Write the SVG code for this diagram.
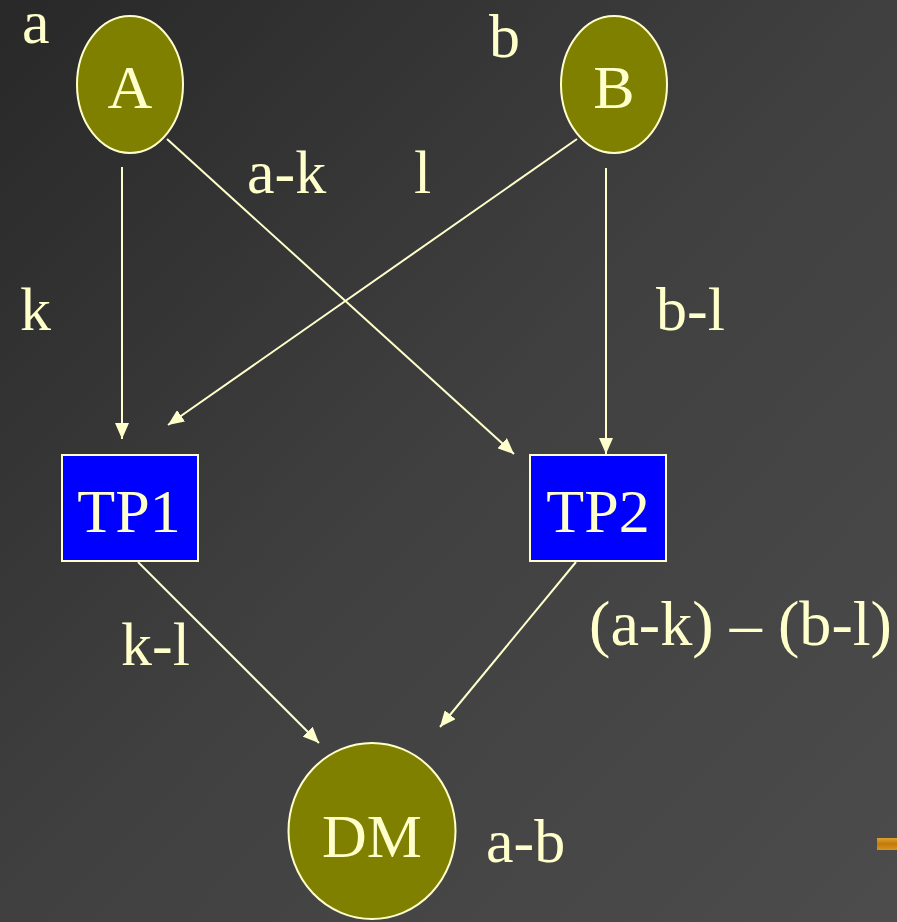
<svg xmlns="http://www.w3.org/2000/svg" width="897" height="922" viewBox="0 0 897 922">
<defs>
<linearGradient id="bg" x1="0" y1="0" x2="1" y2="1">
<stop offset="0" stop-color="#282828"/>
<stop offset="0.5" stop-color="#404040"/>
<stop offset="1" stop-color="#4c4c4c"/>
</linearGradient>
<linearGradient id="gold" x1="0" y1="0" x2="0" y2="1">
<stop offset="0" stop-color="#e0a030"/>
<stop offset="0.5" stop-color="#c07a08"/>
<stop offset="1" stop-color="#d89420"/>
</linearGradient>
<style>
text{font-family:"Liberation Serif","Times New Roman",serif;font-size:62px;fill:#ffffcc}
.c{text-anchor:middle}
.ell{fill:#808000;stroke:#ffffcc;stroke-width:2}
.box{fill:#0000ff;stroke:#ffffcc;stroke-width:2}
.ln{stroke:#ffffcc;stroke-width:2;fill:none}
</style>
<marker id="ah" viewBox="0 0 16 14" refX="16" refY="7" markerWidth="16" markerHeight="14" markerUnits="userSpaceOnUse" orient="auto">
<path d="M0,0 L16,7 L0,14 z" fill="#ffffcc"/>
</marker>
</defs>
<rect width="897" height="922" fill="url(#bg)"/>
<rect x="877" y="838" width="20" height="12" fill="url(#gold)"/>
<g id="connectors">
<line class="ln" x1="122" y1="167" x2="122" y2="439" marker-end="url(#ah)"/>
<line class="ln" x1="167" y1="139" x2="514" y2="454" marker-end="url(#ah)"/>
<line class="ln" x1="577" y1="139" x2="168" y2="425" marker-end="url(#ah)"/>
<line class="ln" x1="606" y1="168" x2="606" y2="454" marker-end="url(#ah)"/>
<line class="ln" x1="138" y1="562" x2="319" y2="743" marker-end="url(#ah)"/>
<line class="ln" x1="576" y1="562" x2="440" y2="727" marker-end="url(#ah)"/>
</g>
<g id="labels">
<text x="22" y="43">a</text>
<text x="489" y="57">b</text>
<text x="247" y="193">a-k</text>
<text x="414" y="193">l</text>
<text x="20" y="330">k</text>
<text x="656" y="330">b-l</text>
<text x="121" y="665">k-l</text>
<text x="589" y="645" style="font-size:64px" textLength="303" lengthAdjust="spacingAndGlyphs">(a-k) – (b-l)</text>
<text x="486" y="862">a-b</text>
</g>
<g id="nodeA">
<ellipse class="ell" cx="130" cy="84.5" rx="53" ry="68.5"/>
<text class="c" x="130" y="108">A</text>
</g>
<g id="nodeB">
<ellipse class="ell" cx="614" cy="84.5" rx="53" ry="68.5"/>
<text class="c" x="614" y="108">B</text>
</g>
<g id="nodeTP1">
<rect class="box" x="62" y="455" width="136" height="106"/>
<text class="c" x="129" y="532">TP1</text>
</g>
<g id="nodeTP2">
<rect class="box" x="530" y="455" width="136" height="106"/>
<text class="c" x="598" y="532">TP2</text>
</g>
<g id="nodeDM">
<ellipse class="ell" cx="372" cy="831" rx="83.5" ry="88"/>
<text class="c" x="372" y="857">DM</text>
</g>
</svg>
